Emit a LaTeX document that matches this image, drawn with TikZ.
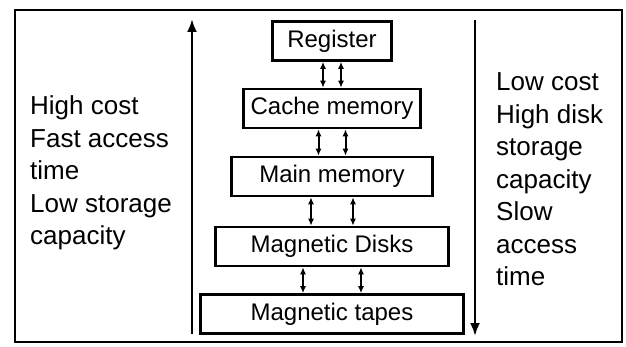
\documentclass[tikz,border=0pt]{standalone}
\usepackage{fontspec}
\setmainfont{Liberation Sans}
\usetikzlibrary{arrows.meta}

\begin{document}
\begin{tikzpicture}[x=1pt,y=-1pt]

	\tikzstyle{level} = [rectangle,draw=black,line width=2.6pt,minimum height=39pt,inner sep=0pt,font=\fontsize{24}{24}\selectfont]
	\tikzstyle{lado} = [anchor=west,align=left,inner sep=0pt,font=\fontsize{26}{32.5}\selectfont]
	\tikzstyle{doble} = [{Latex[length=7pt,width=6pt]}-{Latex[length=7pt,width=6pt]},line width=2pt]
	\tikzstyle{flecha} = [-{Latex[length=13pt,width=10pt]},line width=2.4pt]

	\useasboundingbox (0,0) rectangle (626,347);
	\draw[line width=2.8pt] (15,10) rectangle (622,342);

	\node[level,minimum width=119pt] (reg)   at (332,41)    {Register};
	\node[level,minimum width=177pt] (cache) at (332,108.5) {Cache memory};
	\node[level,minimum width=201pt] (main)  at (332,176.5) {Main memory};
	\node[level,minimum width=233pt] (disk)  at (332,246.5) {Magnetic Disks};
	\node[level,minimum width=263pt] (tape)  at (332,314)   {Magnetic tapes};

	% paired arrows between the levels
	\foreach \a/\b/\d in {reg/cache/9,cache/main/13.5,main/disk/21,disk/tape/29}{
		\draw[doble] ([xshift=-\d pt]\a.south) -- ([xshift=-\d pt]\b.north);
		\draw[doble] ([xshift=\d pt]\a.south) -- ([xshift=\d pt]\b.north);
	}

	\coordinate (lbot) at (192,334);
	\coordinate (ltop) at (192,19);
	\coordinate (rtop) at (475,20);
	\coordinate (rbot) at (475,336);
	\draw[flecha] (lbot) -- (ltop);
	\draw[flecha] (rtop) -- (rbot);

	\node[lado] (izq) at (30,173)   {High cost\\Fast access\\time\\Low storage\\capacity};
	\node[lado] (der) at (496,179.5) {Low cost\\High disk\\storage\\capacity\\Slow\\access\\time};

\end{tikzpicture}
\end{document}
